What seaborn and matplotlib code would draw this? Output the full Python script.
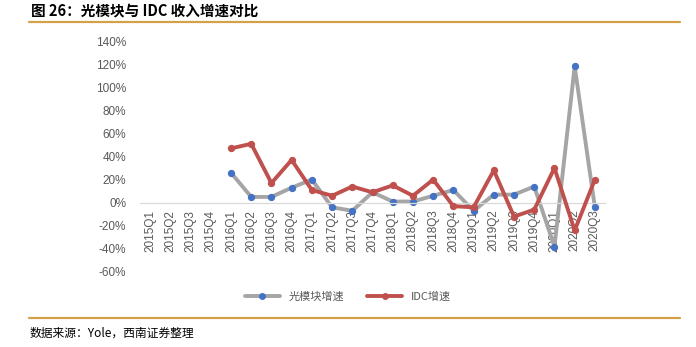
import matplotlib
matplotlib.use("Agg")
import matplotlib.pyplot as plt
import matplotlib.lines as mlines
import seaborn as sns
import pandas as pd
import numpy as np

# Quarterly growth rates (%), 2015Q1 - 2020Q3
quarters = ["2015Q1", "2015Q2", "2015Q3", "2015Q4",
            "2016Q1", "2016Q2", "2016Q3", "2016Q4",
            "2017Q1", "2017Q2", "2017Q3", "2017Q4",
            "2018Q1", "2018Q2", "2018Q3", "2018Q4",
            "2019Q1", "2019Q2", "2019Q3", "2019Q4",
            "2020Q1", "2020Q2", "2020Q3"]
optical_growth = [np.nan, np.nan, np.nan, np.nan,
                  26, 5, 5, 13,
                  20, -4, -7, 9,
                  1, 1, 6, 11,
                  -7, 7, 7, 14,
                  -38, 118, -4]
idc_growth = [np.nan, np.nan, np.nan, np.nan,
              47, 51, 17, 37,
              11, 6, 14, 9,
              15, 6, 20, -3,
              -4, 28, -12, -6,
              30, -24, 20]
y_ticks = [-60, -40, -20, 0, 20, 40, 60, 80, 100, 120, 140]

series_names = ["光模块增速", "IDC增速"]
line_colors = ["#A5A5A5", "#C0504D"]
marker_colors = ["#4472C4", "#C0504D"]

sns.set_theme(style="white")
plt.rcParams["font.family"] = ["Liberation Sans", "Noto Sans CJK SC", "DejaVu Sans"]

df = pd.DataFrame({"quarter": quarters,
                   series_names[0]: optical_growth,
                   series_names[1]: idc_growth})
df["x"] = np.arange(len(quarters))
long_df = df.melt(id_vars=["quarter", "x"], value_vars=series_names,
                  var_name="series", value_name="growth").dropna()

fig = plt.figure(figsize=(6.96, 3.47), dpi=100)
ax = fig.add_axes([140 / 696, 1 - 272 / 347, 465 / 696, 231 / 347])

for name, lc, mc, z in zip(series_names, line_colors, marker_colors, [2, 3]):
    sub = long_df[long_df["series"] == name]
    sns.lineplot(data=sub, x="x", y="growth", ax=ax, color=lc, linewidth=2.8,
                 marker="o", markersize=4.5, markerfacecolor=mc,
                 markeredgecolor=mc, zorder=z, legend=False)

# Category axis sits on the zero line, Excel-style
for side in ["top", "right", "left"]:
    ax.spines[side].set_visible(False)
ax.spines["bottom"].set_position(("data", 0))
ax.spines["bottom"].set_color("#D9D9D9")
ax.spines["bottom"].set_linewidth(0.9)

ax.set_xlim(-0.5, len(quarters) - 0.5)
ax.set_ylim(-60, 140)
ax.set_yticks(y_ticks)
ax.set_yticklabels([f"{v}%" for v in y_ticks])
ax.set_xticks(np.arange(len(quarters)))
ax.set_xticklabels(quarters)
ax.set_xlabel("")
ax.set_ylabel("")
ax.tick_params(axis="both", length=0, labelsize=8.5, labelcolor="#595959")
ax.tick_params(axis="y", pad=10)
ax.tick_params(axis="x", pad=5, labelrotation=90)

handles = [mlines.Line2D([], [], color=lc, linewidth=2.8, marker="o", markersize=4,
                         markerfacecolor=mc, markeredgecolor=mc)
           for lc, mc in zip(line_colors, marker_colors)]
fig.legend(handles, series_names, loc="center", bbox_to_anchor=(0.5, 1 - 297 / 347),
           ncol=2, frameon=False, handlelength=3.2, columnspacing=2.0,
           prop={"family": ["Noto Sans CJK SC"], "size": 8}, labelcolor="#595959")

# Header, rules and source line
fig.text(31 / 696, 1 - 10 / 347, "图 26：光模块与 IDC 收入增速对比", fontsize=10.5,
         fontweight="bold", va="center", ha="left",
         family=["Noto Sans CJK SC", "DejaVu Sans"], color="#000000")
fig.add_artist(mlines.Line2D([29 / 696, 680 / 696], [1 - 22 / 347, 1 - 22 / 347],
                             color="#D4A04A", linewidth=1.6))
fig.add_artist(mlines.Line2D([29 / 696, 680 / 696], [1 - 318 / 347, 1 - 318 / 347],
                             color="#D4A04A", linewidth=1.6))
fig.text(30 / 696, 1 - 333 / 347, "数据来源：Yole，西南证券整理", fontsize=8.5,
         style="italic", va="center", ha="left",
         family=["Noto Sans CJK SC", "DejaVu Sans"], color="#000000")

fig.savefig("out.png", dpi=100)
